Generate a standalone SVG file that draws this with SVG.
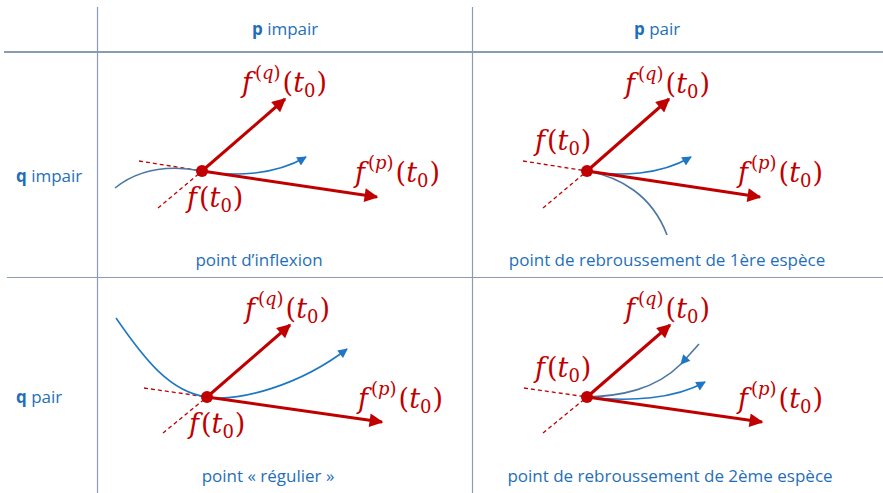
<svg xmlns="http://www.w3.org/2000/svg" width="883" height="493" viewBox="0 0 883 493">
<style>
.grid{stroke:#8a9bb2;stroke-width:1.2;fill:none}
.gridh{stroke:#8a9bb2;stroke-width:2;fill:none}
.hdr{font-family:"Open Sans","Liberation Sans",sans-serif;font-size:17px;fill:#1f6fb8}
.hdr .b{font-weight:bold}
.cap{font-family:"Open Sans","Liberation Sans",sans-serif;font-size:17px;fill:#1f6fb8;text-anchor:middle}
.m{font-family:"DejaVu Serif","Liberation Serif",serif;font-size:27px;fill:#c00000}
.m .i{font-style:italic}
.m .s{font-size:18px}
.vec{stroke:#c00000;stroke-width:3;fill:none;marker-end:url(#ra)}
.dash{stroke:#c00000;stroke-width:1.3;stroke-dasharray:4 3;fill:none}
.dot{fill:#c00000}
.cb{stroke:#1f77c4;stroke-width:1.6;fill:none}
.cs{stroke:#4d77a3;stroke-width:1.6;fill:none}
.arr{marker-end:url(#ba)}
</style>
<defs>
<marker id="ra" viewBox="0 0 10 10" refX="9" refY="5" markerWidth="5.2" markerHeight="4.6" markerUnits="strokeWidth" orient="auto">
<path d="M0,0 L10,5 L0,10 z" fill="#c00000"/>
</marker>
<marker id="ba" viewBox="0 0 10 10" refX="9" refY="5" markerWidth="7" markerHeight="6" markerUnits="strokeWidth" orient="auto">
<path d="M0,0 L10,5 L0,10 z" fill="#1f77c4"/>
</marker>
</defs>

<g id="grid">
<line class="grid" x1="97.5" y1="7" x2="97.5" y2="493"/>
<line class="grid" x1="472.5" y1="7" x2="472.5" y2="493"/>
<line class="gridh" x1="4" y1="52" x2="883" y2="52"/>
<line class="grid" x1="7" y1="277.5" x2="883" y2="277.5"/>
</g>

<g id="headers">
<text class="hdr" x="252" y="35"><tspan class="b">p</tspan> impair</text>
<text class="hdr" x="634" y="35"><tspan class="b">p</tspan> pair</text>
<text class="hdr" x="16" y="182"><tspan class="b">q</tspan> impair</text>
<text class="hdr" x="16" y="403"><tspan class="b">q</tspan> pair</text>
</g>

<g id="connectors">
<!-- cell 1 -->
<path class="dash" d="M139,161 L202,171"/>
<path class="dash" d="M158,208 L202,171"/>
<path class="cs" d="M115,188 C140,168 170,165 202,171"/>
<path class="cb arr" d="M202,171 C235,177 275,175 306,157"/>
<path class="vec" d="M202,171 L285,99"/>
<path class="vec" d="M202,171 L377,197"/>
<!-- cell 2 -->
<path class="dash" d="M523,161 L587,171"/>
<path class="dash" d="M543,208 L587,171"/>
<path class="cs" d="M587,171 C620,177 652,195 667,235"/>
<path class="cb arr" d="M587,171 C620,177 660,175 691,157"/>
<path class="vec" d="M587,171 L669,99"/>
<path class="vec" d="M587,171 L760,197"/>
<!-- cell 3 -->
<path class="dash" d="M144,388 L207,397"/>
<path class="dash" d="M163,433 L207,397"/>
<path class="cb" d="M116,318 C145,360 170,392 207,397"/>
<path class="cb arr" d="M207,397 C240,402 300,385 347,349"/>
<path class="vec" d="M207,397 L290,325"/>
<path class="vec" d="M207,397 L382,422"/>
<!-- cell 4 -->
<path class="dash" d="M524,388 L587,397"/>
<path class="dash" d="M543,433 L587,397"/>
<path class="cs" d="M681,364 C655,390 620,396 587,397"/>
<path class="cs" d="M699,344 L681,364" marker-end="url(#ba)"/>
<path class="cb arr" d="M587,397 C630,402 675,399 705,382"/>
<path class="vec" d="M587,397 L670,325"/>
<path class="vec" d="M587,397 L762,422"/>
</g>

<g id="dots">
<circle class="dot" cx="202" cy="171" r="6"/>
<circle class="dot" cx="587" cy="171" r="6"/>
<circle class="dot" cx="207" cy="397" r="6"/>
<circle class="dot" cx="587" cy="397" r="6"/>
</g>

<g id="cell-pimpair-qimpair">
<text class="m" x="242" y="92"><tspan class="i">f</tspan><tspan class="s" dx="3" dy="-13">(</tspan><tspan class="s i">q</tspan><tspan class="s">)</tspan><tspan dx="2" dy="13">(</tspan><tspan class="i">t</tspan><tspan class="s" dy="5">0</tspan><tspan dx="1" dy="-5">)</tspan></text>
<text class="m" x="355" y="182"><tspan class="i">f</tspan><tspan class="s" dx="3" dy="-13">(</tspan><tspan class="s i">p</tspan><tspan class="s">)</tspan><tspan dx="2" dy="13">(</tspan><tspan class="i">t</tspan><tspan class="s" dy="5">0</tspan><tspan dx="1" dy="-5">)</tspan></text>
<text class="m" x="187" y="207"><tspan class="i">f</tspan><tspan dx="2">(</tspan><tspan class="i">t</tspan><tspan class="s" dy="5">0</tspan><tspan dx="1" dy="-5">)</tspan></text>
<text class="cap" x="259" y="266">point d’inflexion</text>
</g>

<g id="cell-ppair-qimpair">
<text class="m" x="535" y="150"><tspan class="i">f</tspan><tspan dx="2">(</tspan><tspan class="i">t</tspan><tspan class="s" dy="5">0</tspan><tspan dx="1" dy="-5">)</tspan></text>
<text class="m" x="625" y="93"><tspan class="i">f</tspan><tspan class="s" dx="3" dy="-13">(</tspan><tspan class="s i">q</tspan><tspan class="s">)</tspan><tspan dx="2" dy="13">(</tspan><tspan class="i">t</tspan><tspan class="s" dy="5">0</tspan><tspan dx="1" dy="-5">)</tspan></text>
<text class="m" x="738" y="182"><tspan class="i">f</tspan><tspan class="s" dx="3" dy="-13">(</tspan><tspan class="s i">p</tspan><tspan class="s">)</tspan><tspan dx="2" dy="13">(</tspan><tspan class="i">t</tspan><tspan class="s" dy="5">0</tspan><tspan dx="1" dy="-5">)</tspan></text>
<text class="cap" x="667" y="266">point de rebroussement de 1ère espèce</text>
</g>

<g id="cell-pimpair-qpair">
<text class="m" x="245" y="318"><tspan class="i">f</tspan><tspan class="s" dx="3" dy="-13">(</tspan><tspan class="s i">q</tspan><tspan class="s">)</tspan><tspan dx="2" dy="13">(</tspan><tspan class="i">t</tspan><tspan class="s" dy="5">0</tspan><tspan dx="1" dy="-5">)</tspan></text>
<text class="m" x="358" y="408"><tspan class="i">f</tspan><tspan class="s" dx="3" dy="-13">(</tspan><tspan class="s i">p</tspan><tspan class="s">)</tspan><tspan dx="2" dy="13">(</tspan><tspan class="i">t</tspan><tspan class="s" dy="5">0</tspan><tspan dx="1" dy="-5">)</tspan></text>
<text class="m" x="189" y="433"><tspan class="i">f</tspan><tspan dx="2">(</tspan><tspan class="i">t</tspan><tspan class="s" dy="5">0</tspan><tspan dx="1" dy="-5">)</tspan></text>
<text class="cap" x="268" y="482">point « régulier »</text>
</g>

<g id="cell-ppair-qpair">
<text class="m" x="535" y="377"><tspan class="i">f</tspan><tspan dx="2">(</tspan><tspan class="i">t</tspan><tspan class="s" dy="5">0</tspan><tspan dx="1" dy="-5">)</tspan></text>
<text class="m" x="625" y="318"><tspan class="i">f</tspan><tspan class="s" dx="3" dy="-13">(</tspan><tspan class="s i">q</tspan><tspan class="s">)</tspan><tspan dx="2" dy="13">(</tspan><tspan class="i">t</tspan><tspan class="s" dy="5">0</tspan><tspan dx="1" dy="-5">)</tspan></text>
<text class="m" x="738" y="408"><tspan class="i">f</tspan><tspan class="s" dx="3" dy="-13">(</tspan><tspan class="s i">p</tspan><tspan class="s">)</tspan><tspan dx="2" dy="13">(</tspan><tspan class="i">t</tspan><tspan class="s" dy="5">0</tspan><tspan dx="1" dy="-5">)</tspan></text>
<text class="cap" x="670" y="482">point de rebroussement de 2ème espèce</text>
</g>
</svg>
